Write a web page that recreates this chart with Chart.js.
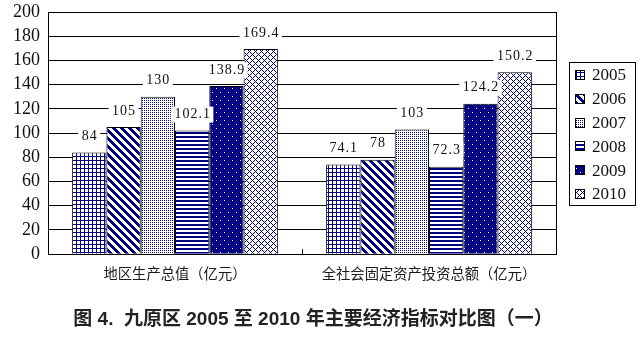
<!DOCTYPE html>
<html>
<head>
<meta charset="utf-8">
<script src="https://cdn.jsdelivr.net/npm/chart.js@4.4.0/dist/chart.umd.min.js"></script>
<style>
    html, body { margin: 0; padding: 0; background: #fff; }
    #wrap { width: 640px; height: 346px; }
</style>
</head>
<body>
<div id="wrap"><canvas id="chart" width="640" height="346"></canvas></div>
<script>
const categories = ["地区生产总值（亿元）", "全社会固定资产投资总额（亿元）"];
const years = ["2005", "2006", "2007", "2008", "2009", "2010"];
const values2005 = [84, 74.1];
const values2006 = [105, 78];
const values2007 = [130, 103];
const values2008 = [102.1, 72.3];
const values2009 = [138.9, 124.2];
const values2010 = [169.4, 150.2];
const yMin = 0;
const yMax = 200;
const yStep = 20;
const chartTitle = "图 4.  九原区 2005 至 2010 年主要经济指标对比图（一）";

const NAVY = "#000080";
const SERIF = "'Liberation Serif', 'DejaVu Serif', serif";

// small pixel tiles used as bar fills
function makePattern(size, bg, fg, test) {
    const c = document.createElement("canvas");
    c.width = size;
    c.height = size;
    const g = c.getContext("2d");
    g.fillStyle = bg;
    g.fillRect(0, 0, size, size);
    g.fillStyle = fg;
    for (let y = 0; y < size; y++) {
        for (let x = 0; x < size; x++) {
            if (test(x, y)) g.fillRect(x, y, 1, 1);
        }
    }
    return g.createPattern(c, "repeat");
}

document.addEventListener("DOMContentLoaded", function () {
    const fills = [
        makePattern(4, "#fff", NAVY, (x, y) => x === 0 || y === 0),
        makePattern(8, "#fff", NAVY, (x, y) => ((x - y + 16) % 8) < 4),
        makePattern(2, "#fff", NAVY, (x, y) => x === 0 && y === 0),
        makePattern(4, "#fff", NAVY, (x, y) => y < 2),
        makePattern(8, NAVY, "#fff", (x, y) => (x === 0 && y === 0) || (x === 4 && y === 4)),
        makePattern(6, "#fff", NAVY, (x, y) => (x + y) % 6 === 0 || (x - y + 6) % 6 === 0)
    ];
    const seriesValues = [values2005, values2006, values2007, values2008, values2009, values2010];

    const datasets = years.map((year, i) => ({
        label: year,
        data: seriesValues[i],
        backgroundColor: fills[i],
        borderColor: "#000",
        borderWidth: 1,
        categoryPercentage: 0.81,
        barPercentage: 1.0
    }));

    // numbers above each bar, on a white patch that hides the grid line
    const valueLabels = {
        id: "valueLabels",
        afterDatasetsDraw(chart) {
            const ctx = chart.ctx;
            ctx.save();
            ctx.font = "14px " + SERIF;
            ctx.letterSpacing = "1px";
            ctx.textAlign = "center";
            ctx.textBaseline = "middle";
            chart.data.datasets.forEach((ds, i) => {
                chart.getDatasetMeta(i).data.forEach((bar, j) => {
                    const text = String(ds.data[j]);
                    const w = ctx.measureText(text).width + 6;
                    const y = bar.y - 16;
                    ctx.fillStyle = "#fff";
                    ctx.fillRect(bar.x - w / 2, y - 8, w, 16);
                    ctx.fillStyle = "#111";
                    ctx.fillText(text, bar.x + 0.5, y);
                });
            });
            ctx.restore();
        }
    };

    // plot frame, the middle tick and the boxed legend
    const frameAndLegend = {
        id: "frameAndLegend",
        afterDraw(chart) {
            const ctx = chart.ctx;
            const a = chart.chartArea;
            const xs = chart.scales.x;
            ctx.save();
            ctx.strokeStyle = "#000";
            ctx.lineWidth = 1;
            ctx.strokeRect(Math.round(a.left) + 0.5, Math.round(a.top) + 0.5,
                Math.round(a.right - a.left), Math.round(a.bottom - a.top));

            const mid = Math.round((xs.getPixelForValue(0) + xs.getPixelForValue(1)) / 2) + 0.5;
            ctx.beginPath();
            ctx.moveTo(mid, a.bottom);
            ctx.lineTo(mid, a.bottom - 5);
            ctx.stroke();

            const n = chart.data.datasets.length;
            const rowH = 23.8;
            const boxW = 66;
            const boxH = 143;
            const bx = Math.round(a.right) + 13;
            const by = Math.round((a.top + a.bottom) / 2 - boxH / 2);
            ctx.fillStyle = "#fff";
            ctx.fillRect(bx, by, boxW, boxH);
            ctx.strokeRect(bx + 0.5, by + 0.5, boxW, boxH);
            ctx.font = "17px " + SERIF;
            ctx.textAlign = "left";
            ctx.textBaseline = "middle";
            for (let i = 0; i < n; i++) {
                const ds = chart.data.datasets[i];
                const cy = by + 13 + i * rowH;
                ctx.fillStyle = ds.backgroundColor;
                ctx.fillRect(bx + 6, Math.round(cy - 5), 10, 10);
                ctx.strokeRect(bx + 6.5, Math.round(cy - 5) + 0.5, 9, 9);
                ctx.fillStyle = "#111";
                ctx.fillText(ds.label, bx + 23, cy + 1);
            }
            ctx.restore();
        }
    };

    new Chart(document.getElementById("chart").getContext("2d"), {
        type: "bar",
        data: { labels: categories, datasets: datasets },
        options: {
            responsive: false,
            animation: false,
            layout: { padding: { top: 12, left: 0, right: 14, bottom: 0 } },
            scales: {
                x: {
                    grid: { display: false, drawTicks: false },
                    border: { color: "#000", width: 1 },
                    ticks: {
                        color: "#1a1a1a",
                        padding: 11,
                        font: { family: "'Noto Sans CJK SC', sans-serif", size: 14.3 }
                    },
                    afterFit(scale) { scale.height = 40; }
                },
                y: {
                    min: yMin,
                    max: yMax,
                    grid: { color: "#000", lineWidth: 1, drawTicks: false },
                    border: { color: "#000", width: 1 },
                    ticks: {
                        stepSize: yStep,
                        autoSkip: false,
                        color: "#111",
                        padding: 8,
                        font: { family: SERIF, size: 18 }
                    },
                    afterFit(scale) {
                        scale.width = 48;
                        scale.paddingTop = 0;
                        scale.paddingBottom = 0;
                    }
                },
                // empty right-hand room for the legend box
                legendRoom: {
                    type: "linear",
                    position: "right",
                    display: true,
                    grid: { display: false, drawTicks: false },
                    border: { display: false },
                    ticks: { display: false },
                    afterFit(scale) {
                        scale.width = 70;
                        scale.paddingTop = 0;
                        scale.paddingBottom = 0;
                    }
                }
            },
            plugins: {
                legend: { display: false },
                tooltip: { enabled: false },
                title: {
                    display: true,
                    position: "bottom",
                    text: chartTitle,
                    color: "#222",
                    font: { family: "'Liberation Sans', 'Noto Sans CJK SC', sans-serif", size: 19, weight: "bold" },
                    padding: { top: 14, bottom: 15 }
                }
            }
        },
        plugins: [valueLabels, frameAndLegend]
    });
});
</script>
</body>
</html>
